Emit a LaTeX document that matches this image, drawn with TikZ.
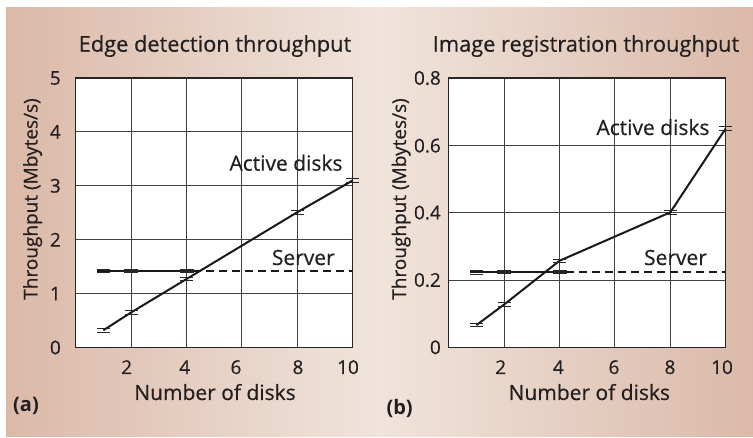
\documentclass[tikz,border=0pt]{standalone}
\usepackage{fontspec}
\setmainfont{Open Sans}
\newfontfamily\lblfont{Open Sans}[FakeBold=0.5]
\usetikzlibrary{calc}
\definecolor{txt}{HTML}{231F20}
\definecolor{bgedge}{HTML}{DBB9A8}
\definecolor{bgmid}{HTML}{F0E4DC}
\begin{document}
\begin{tikzpicture}[x=1pt,y=-1pt,
  lbl/.style={inner sep=0pt, text=txt, font=\lblfont\fontsize{21}{24}\selectfont},
  ttl/.style={inner sep=0pt, text=txt, font=\lblfont\fontsize{21.8}{24}\selectfont},
  ylbl/.style={inner sep=0pt, text=txt, font=\lblfont\fontsize{19}{22}\selectfont},
  tick/.style={inner sep=0pt, text=txt, font=\lblfont\fontsize{19}{22}\selectfont},
  gridline/.style={draw=black!75, line width=0.9pt},
  frameline/.style={draw=black!85, line width=1.2pt},
  dataline/.style={draw=black!90, line width=2pt, line join=round},
  serverline/.style={draw=black!90, line width=2.4pt},
  dashline/.style={draw=black!90, line width=2pt, dash pattern=on 8pt off 5pt},
  ebar/.pic={\draw[black!85, line width=0.9pt] (-6.5pt,-1.8pt) -- (6.5pt,-1.8pt) (-6.5pt,1.8pt) -- (6.5pt,1.8pt);},
  sbar/.pic={\fill[black!85] (-7pt,-2pt) rectangle (7pt,2pt);}
]
\useasboundingbox (0,0) rectangle (753,438);
\shade[left color=bgedge, right color=bgedge, middle color=bgmid] (6,8) rectangle (753,437);

% ---------- panel (a)
\begin{scope}[shift={(75.7,347.5)}, x=27.7pt, y=53.9pt]
  \fill[white] (0,0) rectangle (10,5);
  \foreach \i in {2,4,6,8} \draw[gridline] (\i,0) -- (\i,5);
  \foreach \j in {1,2,3,4} \draw[gridline] (0,\j) -- (10,\j);
  \draw[frameline] (0,0) rectangle (10,5);
  \coordinate (aa1) at (1,0.32);
  \coordinate (aa2) at (2,0.65);
  \coordinate (aa4) at (4,1.27);
  \coordinate (aa8) at (8,2.51);
  \coordinate (aa10) at (10,3.1);
  \coordinate (as1) at (1,1.42);
  \coordinate (as2) at (2,1.42);
  \coordinate (as4) at (4,1.42);
  \coordinate (as10) at (10,1.42);
  \draw[dashline, shorten <=6.5pt] (as4) -- (as10);
  \draw[serverline, shorten <=-6.5pt, shorten >=-6.5pt] (as1) -- (as2) -- (as4);
  \draw[dataline] (aa1) -- (aa2) -- (aa4) -- (aa8) -- (aa10);
  \foreach \p in {aa1,aa2,aa4,aa8,aa10,as1} \pic at (\p) {ebar};
  \foreach \p in {as2,as4} \pic at (\p) {sbar};
\end{scope}

\node[ttl, anchor=base] (ta) at (215,51.7) {Edge detection throughput};
\node[ylbl, anchor=base, rotate=90] (ya) at (37.5,199) {Throughput (Mbytes/s)};
\node[lbl, anchor=base] (xa) at (215,400) {Number of disks};
\node[lbl, anchor=base] (acta) at (286,170.7) {Active disks};
\node[lbl, anchor=base] (srva) at (303.3,265) {Server};
\node[lbl, anchor=base west, font=\fontsize{20}{24}\selectfont\bfseries] (pa) at (13,411.7) {(a)};
\node[tick, anchor=east] (ay0) at (61,347.5) {0};
\node[tick, anchor=east] (ay1) at (61,293.6) {1};
\node[tick, anchor=east] (ay2) at (61,239.7) {2};
\node[tick, anchor=east] (ay3) at (61,185.8) {3};
\node[tick, anchor=east] (ay4) at (61,131.9) {4};
\node[tick, anchor=east] (ay5) at (61,78) {5};
\node[tick, anchor=base] (ax2) at (126.7,374) {2};
\node[tick, anchor=base] (ax4) at (184.7,374) {4};
\node[tick, anchor=base] (ax6) at (236,374) {6};
\node[tick, anchor=base] (ax8) at (298,374) {8};
\node[tick, anchor=base] (ax10) at (348,374) {10};

% ---------- panel (b)
\begin{scope}[shift={(448.7,347.3)}, x=27.7pt, y=336.6pt]
  \fill[white] (0,0) rectangle (10,0.8);
  \foreach \i in {2,4,6,8} \draw[gridline] (\i,0) -- (\i,0.8);
  \foreach \j in {0.2,0.4,0.6} \draw[gridline] (0,\j) -- (10,\j);
  \draw[frameline] (0,0) rectangle (10,0.8);
  \coordinate (ba1) at (1,0.066);
  \coordinate (ba2) at (2,0.127);
  \coordinate (ba4) at (4,0.257);
  \coordinate (ba8) at (8,0.401);
  \coordinate (ba10) at (10,0.65);
  \coordinate (bs1) at (1,0.223);
  \coordinate (bs2) at (2,0.223);
  \coordinate (bs4) at (4,0.223);
  \coordinate (bs10) at (10,0.223);
  \draw[dashline, shorten <=6.5pt] (bs4) -- (bs10);
  \draw[serverline, shorten <=-6.5pt, shorten >=-6.5pt] (bs1) -- (bs2) -- (bs4);
  \draw[dataline] (ba1) -- (ba2) -- (ba4) -- (ba8) -- (ba10);
  \foreach \p in {ba1,ba2,ba4,ba8,ba10,bs1} \pic at (\p) {ebar};
  \foreach \p in {bs2,bs4} \pic at (\p) {sbar};
\end{scope}

\node[ttl, anchor=base] (tb) at (586,51.7) {Image registration throughput};
\node[ylbl, anchor=base, rotate=90] (yb) at (406,199) {Throughput (Mbytes/s)};
\node[lbl, anchor=base] (xb) at (589.3,400) {Number of disks};
\node[lbl, anchor=base] (actb) at (653,135) {Active disks};
\node[lbl, anchor=base] (srvb) at (675.5,265) {Server};
\node[lbl, anchor=base west, font=\fontsize{20}{24}\selectfont\bfseries] (pb) at (386.3,414.5) {(b)};
\node[tick, anchor=east] (by0) at (441,347.3) {0};
\node[tick, anchor=east] (by2) at (441,280) {0.2};
\node[tick, anchor=east] (by4) at (441,212.6) {0.4};
\node[tick, anchor=east] (by6) at (441,145.7) {0.6};
\node[tick, anchor=east] (by8) at (441,78) {0.8};
\node[tick, anchor=base] (bx2) at (500.7,374) {2};
\node[tick, anchor=base] (bx4) at (558.3,374) {4};
\node[tick, anchor=base] (bx6) at (614,374) {6};
\node[tick, anchor=base] (bx8) at (670,374) {8};
\node[tick, anchor=base] (bx10) at (722,374) {10};
\end{tikzpicture}
\end{document}
